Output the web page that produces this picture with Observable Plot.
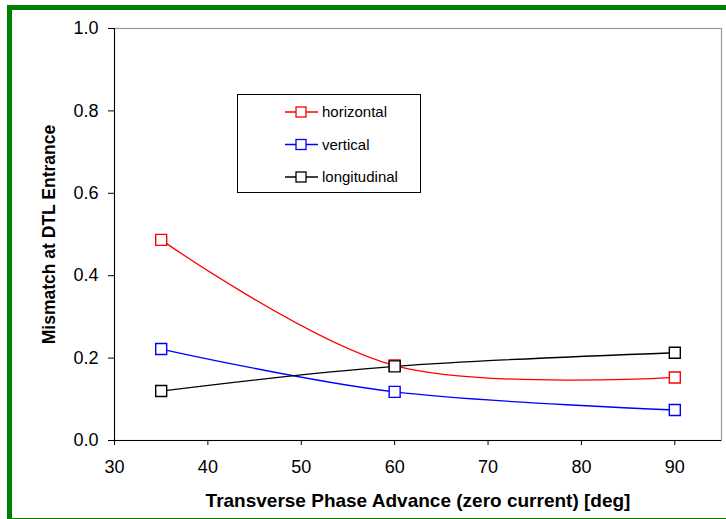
<!DOCTYPE html>
<html><head><meta charset="utf-8">
<script src="https://cdn.jsdelivr.net/npm/d3@7"></script>
<script src="https://cdn.jsdelivr.net/npm/@observablehq/plot@0.6"></script>
<style>
body{margin:0;background:#fff;}
#wrap{position:relative;width:726px;height:519px;overflow:hidden;font-family:Arial,"Liberation Sans",sans-serif;background:#fff;}
#frame{position:absolute;left:7px;top:5px;width:740px;height:514px;border-left:5px solid #008000;border-top:5px solid #008000;border-bottom:1px solid #008000;box-sizing:border-box;pointer-events:none;}
#chart{position:absolute;left:0;top:0;}
#legend{position:absolute;left:237px;top:94px;width:184px;height:99px;border:1px solid #000;box-sizing:border-box;background:#fff;}
</style></head>
<body>
<div id="wrap"><div id="chart"></div><div id="frame"></div><svg id="legend" width="184" height="99"></svg></div>
<script>
const phaseAdvance = [35, 60, 90];
const horizontal = [0.487, 0.182, 0.153];
const vertical = [0.222, 0.118, 0.074];
const longitudinal = [0.120, 0.180, 0.213];
const seriesNames = ["horizontal", "vertical", "longitudinal"];
const seriesColors = ["#ff0000", "#0000ff", "#000000"];
const xTicks = [30, 40, 50, 60, 70, 80, 90];
const yTicks = [0, 0.2, 0.4, 0.6, 0.8, 1.0];
const xTitle = "Transverse Phase Advance (zero current) [deg]";
const yTitle = "Mismatch at DTL Entrance";

const seriesValues = [horizontal, vertical, longitudinal];
const rows = [];
seriesNames.forEach((s, i) => phaseAdvance.forEach((x, j) => rows.push({series: s, x, y: seriesValues[i][j]})));

const chart = Plot.plot({
  width: 726, height: 519,
  marginLeft: 114, marginRight: 5, marginTop: 28, marginBottom: 79,
  style: {fontFamily: "Arial, 'Liberation Sans', sans-serif", fontSize: "18px", background: "transparent", color: "#000"},
  x: {domain: [30, 95]},
  y: {domain: [0, 1]},
  color: {domain: seriesNames, range: seriesColors},
  marks: [
    Plot.frame({stroke: "#999", strokeWidth: 1.2}),
    Plot.axisX({ticks: xTicks, tickSize: 5, tickPadding: 15, label: null, stroke: "#000"}),
    Plot.axisY({ticks: yTicks, tickFormat: ".1f", tickSize: 6, tickPadding: 10, label: null, stroke: "#000"}),
    Plot.ruleX([30], {stroke: "#000"}),
    Plot.ruleY([0], {stroke: "#000"}),
    Plot.text([xTitle], {text: d => d, frameAnchor: "bottom", dy: 60, lineAnchor: "middle", textAnchor: "middle", fontWeight: "bold", fontSize: 19}),
    Plot.text([yTitle], {text: d => d, frameAnchor: "left", dx: -65, rotate: -90, lineAnchor: "middle", textAnchor: "middle", fontWeight: "bold", fontSize: 17.5}),
    Plot.line(rows, {x: "x", y: "y", z: "series", stroke: "series", curve: "cardinal", strokeWidth: 1.3}),
    Plot.dot(rows, {x: "x", y: "y", stroke: "series", symbol: "square", r: 6.2, fill: "white", strokeWidth: 1.4})
  ]
});
document.getElementById("chart").appendChild(chart);

const lg = d3.select("#legend");
seriesNames.forEach((s, i) => {
  const y = 17 + i * 32.5;
  lg.append("line").attr("x1", 47).attr("x2", 80).attr("y1", y).attr("y2", y).attr("stroke", seriesColors[i]).attr("stroke-width", 1.3);
  lg.append("rect").attr("x", 58).attr("y", y - 5).attr("width", 10).attr("height", 10).attr("fill", "white").attr("stroke", seriesColors[i]).attr("stroke-width", 1.3);
  lg.append("text").attr("x", 84).attr("y", y).attr("dy", "0.35em").attr("font-size", 15).attr("font-family", "Arial, 'Liberation Sans', sans-serif").text(s);
});
</script>
</body></html>
